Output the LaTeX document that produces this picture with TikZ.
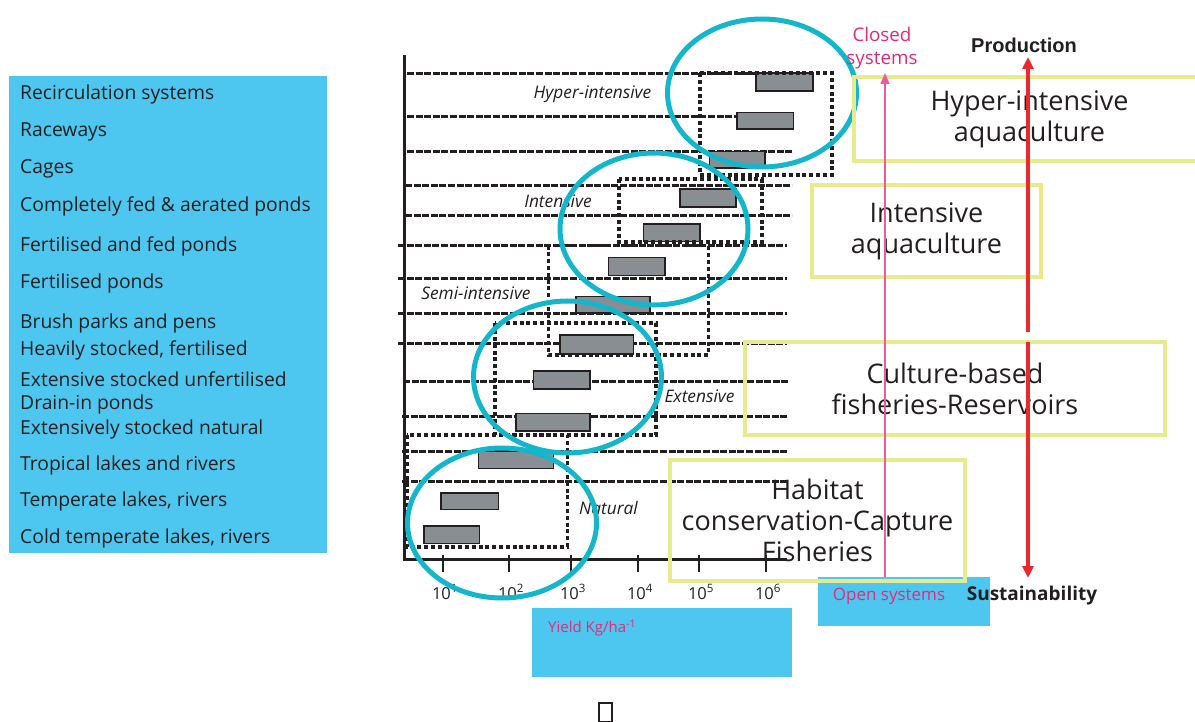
\documentclass[tikz,border=0pt]{standalone}
\usepackage{fontspec}
\setmainfont{Open Sans}
\newfontfamily\arialfont{Liberation Sans}
\usetikzlibrary{arrows.meta,shapes.geometric}
\definecolor{panelblue}{RGB}{77,199,239}
\definecolor{ringcyan}{RGB}{20,182,203}
\definecolor{boxyellow}{RGB}{232,235,140}
\definecolor{pinktext}{RGB}{233,40,120}
\definecolor{pinkline}{RGB}{238,90,160}
\definecolor{arrowred}{RGB}{236,40,45}
\definecolor{bargray}{RGB}{137,142,147}
\definecolor{ink}{RGB}{35,31,32}
\tikzset{
  panel/.style={fill=panelblue, draw=none, inner sep=0pt},
  item/.style={anchor=west, inner sep=0pt, text=ink, font=\fontsize{19.3}{21}\selectfont},
  gridline/.style={draw=ink, line width=2.1pt, dash pattern=on 7pt off 1.6pt},
  bar/.style={fill=bargray, draw=ink, line width=1.6pt},
  dotbox/.style={draw=ink, line width=3.6pt, dash pattern=on 4pt off 2.8pt},
  axisline/.style={draw=ink, line width=3pt},
  tickline/.style={draw=ink, line width=2pt},
  ticklabel/.style={text=ink, inner sep=0pt, font=\fontsize{16.5}{18}\selectfont},
  catlabel/.style={text=ink, inner sep=0pt, font=\fontsize{17.3}{19}\selectfont\itshape},
  ring/.style={ellipse, draw=ringcyan, line width=5pt, inner sep=0pt},
  ybox/.style={draw=boxyellow, line width=4pt, inner sep=0pt, text=ink, align=center,
    font=\fontsize{27}{31}\selectfont},
  pinklabel/.style={text=pinktext, inner sep=0pt, font=\fontsize{18.8}{22.5}\selectfont, align=center},
  boldlabel/.style={text=ink, inner sep=0pt, font=\fontsize{19}{21}\selectfont\bfseries},
  redarrow/.style={draw=arrowred, line width=3.5pt, -{Triangle[width=11pt,length=12pt]}},
  pinkarrow/.style={draw=pinkline, line width=1.4pt, -{Triangle[width=9pt,length=11pt]}}
}
\begin{document}
\begin{tikzpicture}[x=1pt,y=-1pt]
\useasboundingbox (0,0) rectangle (1195,722);
% left blue panel with system types
\node[panel, anchor=north west, minimum width=318pt, minimum height=477pt] (panel) at (9,76) {};
\foreach \yy/\tt [count=\i] in {94/Recirculation systems, 132/Raceways, 169/Cages,
  206/Completely fed \& aerated ponds, 246/Fertilised and fed ponds, 283/Fertilised ponds,
  323/Brush parks and pens, 350/{Heavily stocked, fertilised}, 379/Extensive stocked unfertilised,
  404/Drain-in ponds, 429/Extensively stocked natural, 465/Tropical lakes and rivers,
  501/{Temperate lakes, rivers}, 538/{Cold temperate lakes, rivers}}
  \node[item] (item\i) at (20,\yy) {\tt};
% blue label boxes below
\node[panel, anchor=north west, minimum width=260pt, minimum height=69pt] (yieldbox) at (532,608) {};
\node[panel, anchor=north west, minimum width=172pt, minimum height=49pt] (openbox) at (818,577) {};
% dashed grid lines
\foreach \yy/\xa/\xb in {73.5/407/800, 116.5/407/793, 151.5/407/792, 185.5/405/792, 215.5/405/792,
  245.5/398/787, 278.5/398/787, 313.5/398/787, 343.5/398/787, 381.5/403/788, 416.5/402/788,
  451.5/402/788, 481.5/402/788}
  \draw[gridline] (\xa,\yy) -- (\xb,\yy);
% grey yield bars
\foreach \xa/\ya/\xb/\yb in {756/73.3/812.7/91, 736.7/112.7/793.3/129.3, 709.3/151.7/765/168.3,
  680/189.3/736/207.3, 643.3/224.3/700/241.7, 608.3/257.7/665/275.7, 575.7/296.7/650/313.3,
  560/335/633.3/354, 533.3/370.7/590/389, 515.7/413.3/590/430.7, 478.3/451/553.3/468.3,
  441/492.7/498.3/509.3, 424/526/479.3/543.3}
  \draw[bar] (\xa,\ya) rectangle (\xb,\yb);
% dotted group boxes
\draw[dotbox] (700,73.3) rectangle (831.7,175);
\draw[dotbox] (619,179.3) rectangle (761.7,242.3);
\draw[dotbox] (548.3,245.7) rectangle (708.3,355);
\draw[dotbox] (495,323.3) rectangle (656,435);
\draw[dotbox] (406.7,435) rectangle (567.3,546.7);
% axes
\draw[axisline] (404,55) -- (404,559) -- (787,559);
\foreach \xx/\ee [count=\i] in {443/1, 509/2, 571/3, 638/4, 699/5, 766/6}{
  \draw[tickline] (\xx,555) -- (\xx,572);
  \node[ticklabel] (tick\i) at (\xx+2,592) {10\textsuperscript{\ee}};
}
% category labels
\node[catlabel] (lhyper) at (592.5,94) {Hyper-intensive};
\node[catlabel] (lint) at (558,201) {Intensive};
\node[catlabel] (lsemi) at (476,293.5) {Semi-intensive};
\node[catlabel] (lext) at (699.5,396) {Extensive};
\node[catlabel] (lnat) at (608.5,508.5) {Natural};
% cyan rings
\node[ring, minimum width=189pt, minimum height=148pt] (ring1) at (762,93) {};
\node[ring, minimum width=188pt, minimum height=152pt] (ring2) at (654,229) {};
\node[ring, minimum width=188pt, minimum height=152pt] (ring3) at (567.5,377) {};
\node[ring, minimum width=189pt, minimum height=150pt] (ring4) at (502,523) {};
% yellow category boxes
\node[ybox, minimum width=351pt, minimum height=84pt] (hyperbox) at (1029.5,119) {Hyper-intensive\\aquaculture};
\node[ybox, minimum width=229pt, minimum height=92pt] (intbox) at (926.5,231) {Intensive\\aquaculture};
\node[ybox, minimum width=420pt, minimum height=93pt] (culturebox) at (955,388.5) {Culture-based\\fisheries-Reservoirs};
\node[ybox, minimum width=295pt, minimum height=121pt] (habitatbox) at (817.5,520.5) {Habitat\\conservation-Capture\\Fisheries};
% labels
\node[pinklabel] (closed) at (882,48) {Closed\\systems};
\node[pinklabel, font=\fontsize{17}{19}\selectfont] (open) at (889,596) {Open systems};
\node[pinklabel, anchor=west, font=\fontsize{15}{18}\selectfont] (yield) at (548,628) {Yield Kg/ha\textsuperscript{-1}};
\node[boldlabel, font=\fontsize{20}{21}\selectfont\arialfont\bfseries] (production) at (1024,45) {Production};
\node[boldlabel] (sustain) at (1032,596) {Sustainability};
\node[draw=ink, line width=2pt, minimum width=13pt, minimum height=19pt, inner sep=0pt] (tofu) at (605,712) {};
% arrows
\coordinate (pinkfoot) at (885,577);
\coordinate (pinktip) at (885,73);
\draw[pinkarrow] (pinkfoot) -- (pinktip);
\coordinate (redmidA) at (1028,332);
\coordinate (redtop) at (1028,57);
\coordinate (redmidB) at (1028,342);
\coordinate (redbot) at (1028,578);
\draw[redarrow] (redmidA) -- (redtop);
\draw[redarrow] (redmidB) -- (redbot);
\end{tikzpicture}
\end{document}
